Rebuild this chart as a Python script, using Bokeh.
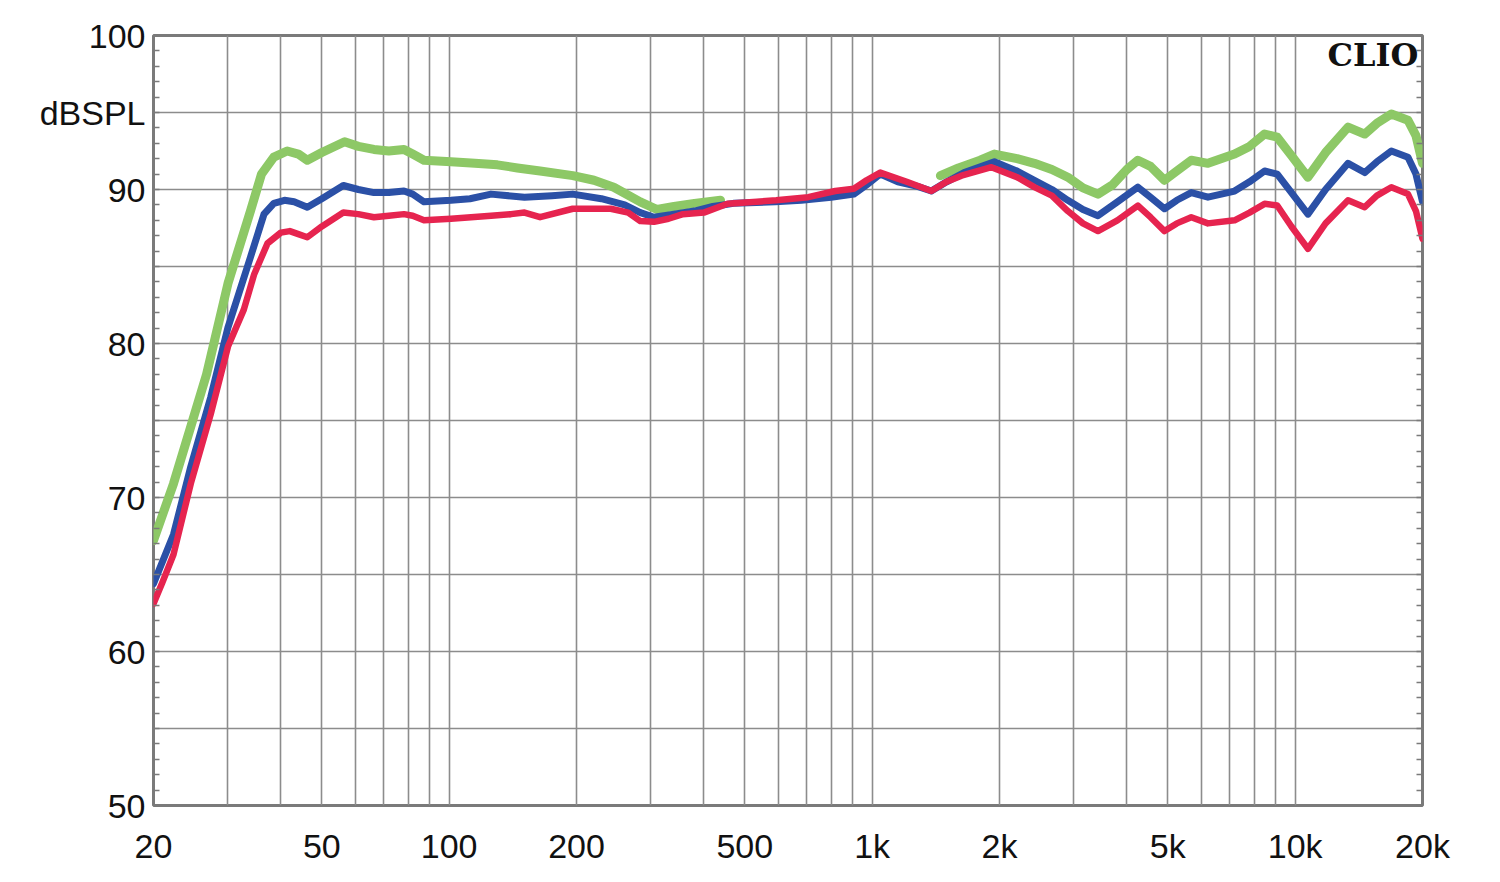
from bokeh.plotting import figure
from bokeh.models import FixedTicker, LinearAxis, Range1d, Label
from bokeh.embed import file_html
from bokeh.resources import INLINE
import numpy as np

# ---- data ----
green_freq = [20, 22.3, 24.5, 26.7, 30, 33.9, 36, 38.5, 41.4, 44, 46.2, 50, 56.6, 61, 66.4, 72, 78.2, 82,
              87.2, 101, 115, 130, 145, 164, 196, 220, 245, 283, 310, 340, 380, 438,
              np.nan,
              1450, 1600, 1800, 1945, 2200, 2418, 2660, 2901, 3150, 3418, 3700, 4000, 4248, 4550, 4910,
              5250, 5680, 6220, 7190, 7800, 8466, 9070, 9800, 10720, 11800, 13336, 14600, 15600, 16880,
              18480, 19300, 20000]
green_db = [67.2, 70.9, 74.6, 78.0, 83.9, 88.6, 91.0, 92.1, 92.5, 92.3, 91.9, 92.4, 93.1, 92.8, 92.6, 92.5,
            92.6, 92.3, 91.9, 91.8, 91.7, 91.6, 91.4, 91.2, 90.9, 90.6, 90.15, 89.2, 88.7, 88.9, 89.1, 89.3,
            np.nan,
            90.9, 91.4, 91.9, 92.3, 92.0, 91.7, 91.3, 90.8, 90.1, 89.7, 90.3, 91.3, 91.9, 91.5, 90.6,
            91.2, 91.9, 91.7, 92.3, 92.8, 93.6, 93.4, 92.2, 90.8, 92.4, 94.05, 93.6, 94.3, 94.9,
            94.5, 93.5, 91.7]

blue_freq = [20, 22.3, 24.5, 27.3, 30, 33.9, 36.5, 38.5, 40.8, 43, 46.2, 50, 56.2, 61, 66.4, 72, 78.2, 82,
             87.2, 101, 112, 125.6, 150.7, 175, 196, 229, 260, 283, 305, 340, 380, 420, 470, 590, 680,
             800, 905, 970, 1045, 1150, 1280, 1380, 1500, 1650, 1945, 2200, 2418, 2660, 2901, 3150,
             3418, 3800, 4248, 4550, 4910, 5250, 5680, 6220, 7190, 7800, 8466, 9070, 9800, 10720,
             11800, 13336, 14600, 15600, 16880, 18480, 19300, 20000]
blue_db = [64.4, 67.6, 72.0, 76.5, 81.05, 85.6, 88.4, 89.1, 89.3, 89.2, 88.85, 89.4, 90.26, 90.0, 89.8,
           89.8, 89.9, 89.7, 89.2, 89.3, 89.4, 89.7, 89.5, 89.6, 89.7, 89.4, 89.0, 88.5, 88.2, 88.4, 88.6,
           88.9, 89.1, 89.2, 89.3, 89.5, 89.7, 90.3, 91.0, 90.5, 90.2, 89.9, 90.5, 91.1, 91.8, 91.2,
           90.6, 90.0, 89.3, 88.7, 88.3, 89.2, 90.15, 89.5, 88.75, 89.3, 89.8, 89.5, 89.9, 90.5, 91.2,
           91.0, 89.8, 88.4, 90.0, 91.7, 91.1, 91.8, 92.5, 92.1, 91.0, 89.2]

red_freq = [20, 21, 22.3, 24.5, 27.3, 30, 32.7, 34.6, 37.2, 40, 42, 44, 46.2, 50, 56.2, 61, 66.4, 72,
            78.2, 82, 87.2, 101, 125.6, 140, 150.7, 164, 196, 241, 265, 283, 305, 330, 357, 400, 455,
            593, 706, 818, 905, 970, 1045, 1207, 1380, 1500, 1626, 1914, 2200, 2418, 2660, 2901, 3150,
            3418, 3800, 4248, 4550, 4910, 5250, 5680, 6220, 7190, 7800, 8466, 9070, 9800, 10720,
            11800, 13336, 14600, 15600, 16880, 18480, 19300, 20000]
red_db = [63.1, 64.5, 66.3, 70.9, 75.4, 79.8, 82.2, 84.5, 86.5, 87.2, 87.3, 87.1, 86.9, 87.6, 88.5, 88.4,
          88.2, 88.3, 88.4, 88.3, 88.0, 88.1, 88.3, 88.4, 88.5, 88.2, 88.75, 88.75, 88.5, 87.95, 87.9,
          88.1, 88.4, 88.5, 89.07, 89.3, 89.5, 89.9, 90.05, 90.6, 91.1, 90.5, 89.9, 90.5, 90.9, 91.45,
          90.8, 90.15, 89.6, 88.6, 87.8, 87.3, 88.0, 88.96, 88.2, 87.3, 87.8, 88.2, 87.8, 88.0, 88.5,
          89.07, 88.96, 87.6, 86.15, 87.8, 89.3, 88.85, 89.6, 90.15, 89.7, 88.6, 86.8]

x_label_ticks = [20, 50, 100, 200, 500, 1000, 2000, 5000, 10000, 20000]
x_label_text = ["20", "50", "100", "200", "500", "1k", "2k", "5k", "10k", "20k"]
x_grid_freqs = [20, 30, 40, 50, 60, 70, 80, 90, 100, 200, 300, 400, 500, 600, 700, 800, 900, 1000,
                2000, 3000, 4000, 5000, 6000, 7000, 8000, 9000, 10000, 20000]
y_ticks = [50, 55, 60, 65, 70, 75, 80, 85, 90, 95, 100]
y_tick_text = ["50", "", "60", "", "70", "", "80", "", "90", "dBSPL", "100"]
y_minor = list(range(50, 101))

GRID = "#8c8c8c"
FRAME = "#7a7a7a"
FONT = "Liberation Sans"

p = figure(width=1500, height=882, x_axis_type="log",
           x_range=Range1d(20, 20000), y_range=Range1d(50, 100),
           output_backend="svg", toolbar_location=None,
           min_border_left=153, min_border_right=78, min_border_top=35, min_border_bottom=77)
p.background_fill_color = "white"
p.border_fill_color = "white"
p.outline_line_color = FRAME
p.outline_line_width = 3

# x axis
xa = p.xaxis[0]
xa.ticker = FixedTicker(ticks=x_label_ticks, minor_ticks=[])
xa.major_label_overrides = {t: s for t, s in zip(x_label_ticks, x_label_text)}
xa.major_tick_in = 0
xa.major_tick_out = 0
xa.minor_tick_in = 0
xa.minor_tick_out = 0
xa.axis_line_color = None
xa.major_label_text_font = FONT
xa.major_label_text_font_size = "34px"
xa.major_label_text_color = "#111111"
xa.major_label_standoff = 21

p.xgrid.ticker = FixedTicker(ticks=x_grid_freqs)
p.xgrid.grid_line_color = GRID
p.xgrid.grid_line_width = 1.6

# y axis
ya = p.yaxis[0]
ya.ticker = FixedTicker(ticks=y_ticks, minor_ticks=y_minor)
ya.major_label_overrides = {t: s for t, s in zip(y_ticks, y_tick_text)}
ya.major_tick_in = 0
ya.major_tick_out = 0
ya.minor_tick_in = 6
ya.minor_tick_out = 0
ya.minor_tick_line_color = FRAME
ya.minor_tick_line_width = 1.5
ya.axis_line_color = None
ya.major_label_text_font = FONT
ya.major_label_text_font_size = "34px"
ya.major_label_text_color = "#111111"
ya.major_label_standoff = 8

p.ygrid.grid_line_color = GRID
p.ygrid.grid_line_width = 1.6

ra = LinearAxis(ticker=FixedTicker(ticks=y_ticks, minor_ticks=y_minor))
ra.major_label_text_font_size = "0px"
ra.major_label_text_color = None
ra.major_tick_in = 0
ra.major_tick_out = 0
ra.minor_tick_in = 6
ra.minor_tick_out = 0
ra.minor_tick_line_color = FRAME
ra.minor_tick_line_width = 1.5
ra.axis_line_color = None
p.add_layout(ra, "right")

# curves
p.line(green_freq, green_db, line_color="#8dc866", line_width=9, line_join="round", line_cap="round")
p.line(blue_freq, blue_db, line_color="#2b50a6", line_width=7, line_join="round", line_cap="round")
p.line(red_freq, red_db, line_color="#e6244f", line_width=6.5, line_join="round", line_cap="round")

p.add_layout(Label(x=19550, y=100, text="CLIO", text_align="right", text_baseline="top",
                   text_font="DejaVu Serif", text_font_style="bold", text_font_size="32px",
                   text_color="#111111"))

open("out.html", "w").write(file_html(p, INLINE))
